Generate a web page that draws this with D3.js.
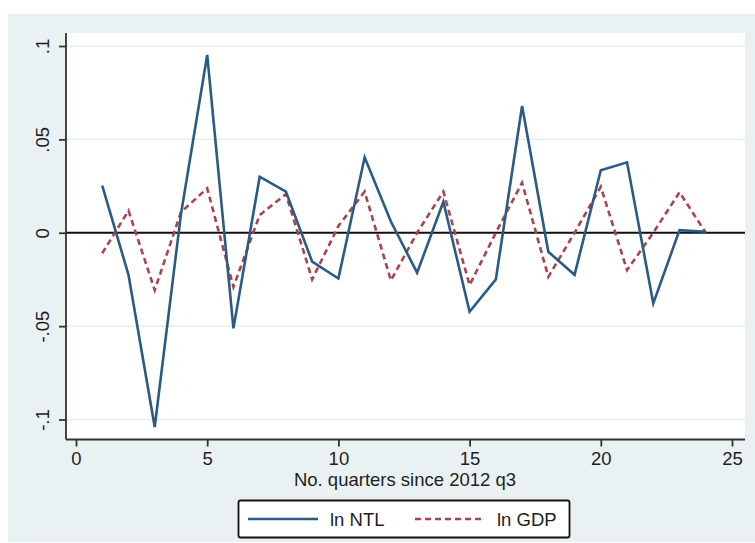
<!DOCTYPE html>
<html>
<head>
<meta charset="utf-8">
<script src="https://cdn.jsdelivr.net/npm/d3@7"></script>
<style>
  html, body { margin: 0; padding: 0; background: #ffffff; }
  svg { display: block; }
  text { font-family: "Liberation Sans", Arial, sans-serif; fill: #1e1e1e; }
</style>
</head>
<body>
<svg id="chart" width="755" height="543"></svg>
<script>
// Quarter index (quarters since 2012 q3)
const quarters = [1, 2, 3, 4, 5, 6, 7, 8, 9, 10, 11, 12, 13, 14, 15, 16, 17, 18, 19, 20, 21, 22, 23, 24];
// Detrended log night-time lights
const lnNTL = [0.0252, -0.0225, -0.104, 0.010, 0.0952, -0.0512, 0.030, 0.022, -0.0155, -0.0245, 0.0404, 0.006,
               -0.0214, 0.0166, -0.0423, -0.025, 0.0679, -0.0102, -0.0225, 0.0335, 0.0377, -0.0378, 0.0014, 0.0005];
// Detrended log GDP
const lnGDP = [-0.011, 0.0118, -0.0307, 0.011, 0.0238, -0.029, 0.0095, 0.0207, -0.025, 0.0036, 0.022, -0.0255,
               0.000, 0.022, -0.028, 0.000, 0.0268, -0.0236, 0.000, 0.0246, -0.020, 0.000, 0.0217, 0.000];

const xTicks = [0, 5, 10, 15, 20, 25];
const yTicks = [-0.1, -0.05, 0, 0.05, 0.1];
const yTickLabels = ["-.1", "-.05", "0", ".05", ".1"];
const seriesNames = ["ln NTL", "ln GDP"];
const xTitle = "No. quarters since 2012 q3";

const fontSize = 18.5;
const svg = d3.select("#chart");

// graph region
svg.append("rect").attr("x", 8).attr("y", 14).attr("width", 747).attr("height", 528)
  .attr("fill", "#eaf1f3");

// plot region
const plot = { left: 66, right: 745, top: 33, bottom: 439.5 };
svg.append("rect").attr("x", plot.left).attr("y", plot.top)
  .attr("width", plot.right - plot.left).attr("height", plot.bottom - plot.top)
  .attr("fill", "#ffffff");

const x = d3.scaleLinear().domain([0, 25]).range([76, 732]);
const y = d3.scaleLinear().domain([-0.1, 0.1]).range([419.5, 46]);

// horizontal grid lines
svg.append("g").selectAll("line").data(yTicks).join("line")
  .attr("x1", plot.left).attr("x2", plot.right)
  .attr("y1", d => y(d)).attr("y2", d => y(d))
  .attr("stroke", "#e6eff1").attr("stroke-width", 1.6);

// reference line at zero
svg.append("line")
  .attr("x1", plot.left).attr("x2", plot.right)
  .attr("y1", y(0)).attr("y2", y(0))
  .attr("stroke", "#111").attr("stroke-width", 2);

// y axis
const yAxis = d3.axisLeft(y).tickValues(yTicks).tickSize(7).tickPadding(9)
  .tickFormat((d, i) => yTickLabels[i]);
const gy = svg.append("g").attr("transform", `translate(${plot.left},0)`).call(yAxis);
gy.select(".domain").attr("d", `M0,${plot.top}V${plot.bottom}`);
gy.selectAll("path, line").attr("stroke", "#333").attr("stroke-width", 1.8);
gy.selectAll("text")
  .attr("font-size", fontSize)
  .attr("text-anchor", "middle")
  .attr("x", 0).attr("y", 0).attr("dy", 0)
  .attr("transform", "translate(-17,0) rotate(-90)");

// x axis
const xAxis = d3.axisBottom(x).tickValues(xTicks).tickSize(7).tickPadding(5);
const gx = svg.append("g").attr("transform", `translate(0,${plot.bottom})`).call(xAxis);
gx.select(".domain").attr("d", `M${plot.left},0H${plot.right}`);
gx.selectAll("path, line").attr("stroke", "#333").attr("stroke-width", 1.8);
gx.selectAll("text").attr("font-size", fontSize);

svg.append("text").attr("x", 405).attr("y", 486)
  .attr("text-anchor", "middle").attr("font-size", fontSize).text(xTitle);

// series lines
const line = vals => d3.line().x((d, i) => x(quarters[i])).y(d => y(d))(vals);
svg.append("path").attr("d", line(lnGDP)).attr("fill", "none")
  .attr("stroke", "#a9444f").attr("stroke-width", 2.6).attr("stroke-dasharray", "6,4");
svg.append("path").attr("d", line(lnNTL)).attr("fill", "none")
  .attr("stroke", "#2b5a84").attr("stroke-width", 2.6).attr("stroke-linejoin", "miter");

// legend
const lg = svg.append("g");
lg.append("rect").attr("x", 238.5).attr("y", 500.5).attr("width", 331).attr("height", 37)
  .attr("rx", 2).attr("fill", "#fff").attr("stroke", "#111").attr("stroke-width", 1.8);
lg.append("line").attr("x1", 248).attr("x2", 318).attr("y1", 519).attr("y2", 519)
  .attr("stroke", "#2b5a84").attr("stroke-width", 2.6);
lg.append("text").attr("x", 330).attr("y", 525.5).attr("font-size", fontSize).text(seriesNames[0]);
lg.append("line").attr("x1", 415).attr("x2", 485).attr("y1", 519).attr("y2", 519)
  .attr("stroke", "#a9444f").attr("stroke-width", 2.6).attr("stroke-dasharray", "6,4");
lg.append("text").attr("x", 497).attr("y", 525.5).attr("font-size", fontSize).text(seriesNames[1]);
</script>
</body>
</html>
